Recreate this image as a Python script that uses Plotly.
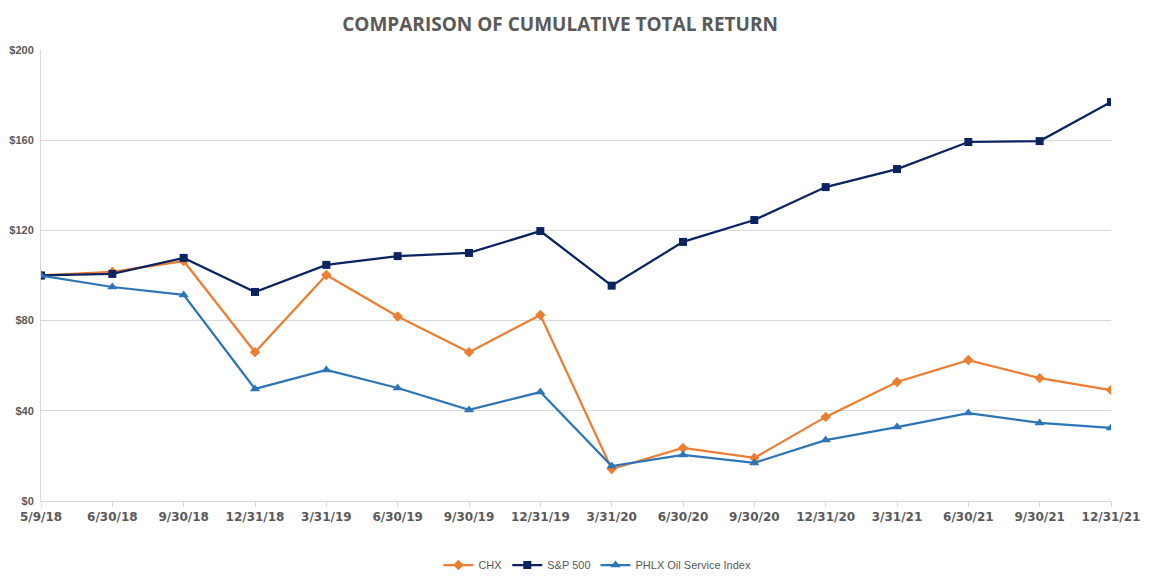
import plotly.graph_objects as go

dates = ["5/9/18", "6/30/18", "9/30/18", "12/31/18", "3/31/19", "6/30/19", "9/30/19",
         "12/31/19", "3/31/20", "6/30/20", "9/30/20", "12/31/20", "3/31/21", "6/30/21",
         "9/30/21", "12/31/21"]
chx = [100, 101.6, 106.4, 66.0, 100.2, 81.8, 66.0, 82.5, 14.2, 23.5, 19.1, 37.3, 52.8, 62.5, 54.5, 49.2]
sp500 = [100, 100.7, 107.8, 92.7, 104.7, 108.6, 110.0, 119.7, 95.5, 114.9, 124.6, 139.2, 147.2, 159.2, 159.6, 176.9]
phlx = [100, 94.9, 91.4, 49.7, 58.1, 50.1, 40.4, 48.3, 15.5, 20.4, 16.9, 27.0, 32.8, 39.0, 34.6, 32.4]
y_ticks = [0, 40, 80, 120, 160, 200]
y_tick_labels = ["$0", "$40", "$80", "$120", "$160", "$200"]

fig = go.Figure()
fig.add_trace(go.Scatter(x=dates, y=chx, name="CHX", mode="lines+markers",
                         line=dict(color="#ED7D31", width=2.25),
                         marker=dict(symbol="diamond", size=8, color="#ED7D31")))
fig.add_trace(go.Scatter(x=dates, y=sp500, name="S&P 500", mode="lines+markers",
                         line=dict(color="#0B2461", width=2.25),
                         marker=dict(symbol="square", size=8, color="#0B2461")))
fig.add_trace(go.Scatter(x=dates, y=phlx, name="PHLX Oil Service Index", mode="lines+markers",
                         line=dict(color="#2E75B6", width=2.25),
                         marker=dict(symbol="triangle-up", size=9, color="#2E75B6")))

fig.update_layout(
    width=1143, height=577,
    margin=dict(l=33, r=40, t=42, b=84, autoexpand=False),
    paper_bgcolor="white", plot_bgcolor="white",
    title=dict(text="COMPARISON OF CUMULATIVE TOTAL RETURN", x=0.483, xanchor="center",
               y=0.972, yanchor="middle",
               font=dict(family="Open Sans", size=19, color="#595959", weight="bold")),
    xaxis=dict(type="category", range=[0, 15], showgrid=False, automargin=False,
               showline=True, linecolor="#D9D9D9", linewidth=1,
               ticks="outside", ticklen=5, tickcolor="#D9D9D9",
               tickfont=dict(family="DejaVu Sans", size=12, color="#595959", weight="bold"),
               tickangle=0),
    yaxis=dict(range=[0, 200], tickvals=y_ticks, ticktext=y_tick_labels, automargin=False,
               showgrid=True, gridcolor="#D9D9D9", gridwidth=1,
               showline=True, linecolor="#D9D9D9", linewidth=1,
               zeroline=False, ticks="", ticklabelstandoff=4,
               tickfont=dict(family="Liberation Sans", size=11, color="#595959", weight="bold")),
    legend=dict(orientation="h", x=0.52, xanchor="center", y=-0.142, yanchor="middle",
                font=dict(family="Liberation Sans", size=11, color="#595959"),
                itemwidth=30, tracegroupgap=0),
    showlegend=True,
)

fig.write_html("out.html")
